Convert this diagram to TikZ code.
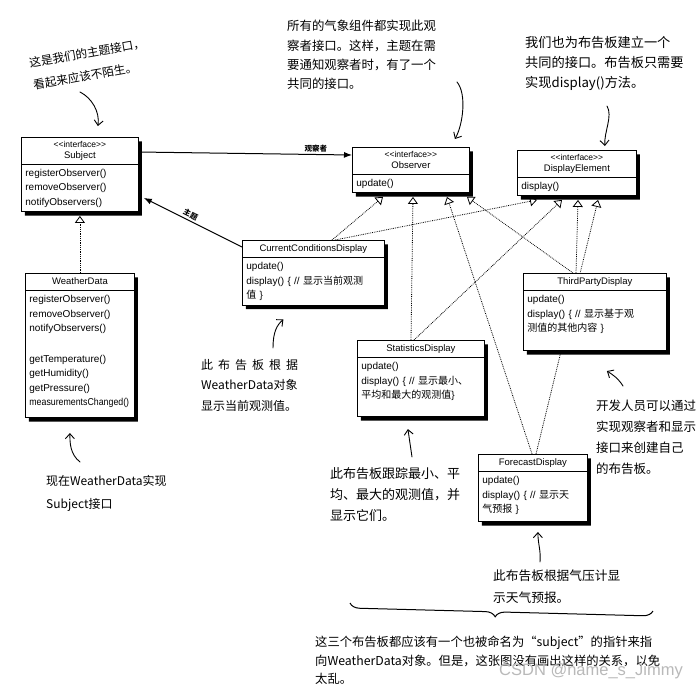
\documentclass[tikz,border=0pt]{standalone}
\usepackage{fontspec}
\usepackage{graphicx}
\setmainfont{Liberation Sans}
\newfontfamily\cjk{Noto Sans CJK SC}
\usetikzlibrary{arrows.meta, shapes.multipart, shadows, backgrounds, decorations.pathreplacing}
\setlength{\parindent}{0pt}

\newcommand{\zh}[1]{{\cjk #1}}
\newcommand{\ifacehead}[1]{\centering\fontsize{9.5}{11.5}\selectfont\strut{\fontsize{8.5}{9}\selectfont <{}<interface>{}>}\\#1\strut\par}
\newcommand{\classhead}[1]{\centering\fontsize{9.5}{13.5}\selectfont\strut#1\strut\par}
\newcommand{\padbox}[1]{\rule[-#1]{0pt}{#1}}

\begin{document}
\begin{tikzpicture}[x=1pt, y=-1pt,
  umlclass/.style={rectangle split, rectangle split parts=2, draw, fill=white,
    line width=0.8pt, anchor=north west, inner xsep=4pt, inner ysep=1.5pt,
    font=\fontsize{10}{14.5}\selectfont,
    drop shadow={shadow xshift=3.5pt, shadow yshift=-4pt, fill=black, opacity=1}},
  realize/.style={densely dotted, line width=0.8pt, -{Triangle[open, length=7pt, width=10pt]}},
  assoc/.style={line width=1pt, -{Latex[length=8pt, width=6pt]}},
  note/.style args={#1/#2}{font=\cjk\fontsize{#1}{#2}\selectfont, align=left,
    inner sep=0pt, anchor=north west},
  hand/.style={line width=0.9pt, line cap=round, -{Straight Barb[length=5pt, width=9pt]}},
  edgelabel/.style={font=\cjk\fontsize{7.5}{9}\selectfont\bfseries, inner sep=2pt}]

  \useasboundingbox (0,0) rectangle (700,691);
  \begin{scope}[on background layer]
    \fill[white] (0,0) rectangle (700,691);
  \end{scope}

  % interfaces
  \node[umlclass, text width=109pt] (subject) at (21,137)
    {\ifacehead{Subject}\nodepart{second}\raggedright\strut registerObserver()\\removeObserver()\\notifyObservers()\strut\par};
  \node[umlclass, text width=109pt] (observer) at (352,147)
    {\ifacehead{Observer}\nodepart{second}\raggedright\strut update()\strut\par};
  \node[umlclass, text width=111pt] (displayel) at (517,150)
    {\ifacehead{DisplayElement}\nodepart{second}\raggedright\strut display()\strut\par};

  % classes
  \node[umlclass, text width=134pt] (ccd) at (242,240)
    {\classhead{CurrentConditionsDisplay}\nodepart{second}\raggedright\strut update()\\display() \{ // \zh{显示当前观测}\\\zh{值} \}\strut\par};
  \node[umlclass, text width=101pt] (weather) at (25,273)
    {\classhead{WeatherData}\nodepart{second}\raggedright\strut registerObserver()\\removeObserver()\\notifyObservers()\\[16pt]getTemperature()\\getHumidity()\\getPressure()\\\scalebox{0.88}[1]{measurementsChanged()}\padbox{10pt}\par};
  \node[umlclass, text width=119pt] (stats) at (357,340)
    {\classhead{StatisticsDisplay}\nodepart{second}\raggedright\strut update()\\display() \{ // \zh{显示最小、}\\\zh{平均和最大的观测值}\}\padbox{16pt}\par};
  \node[umlclass, text width=135pt] (third) at (523,273)
    {\classhead{ThirdPartyDisplay}\nodepart{second}\raggedright\strut update()\\display() \{ // \zh{显示基于观}\\\zh{测值的其他内容} \}\padbox{17pt}\par};
  \node[umlclass, text width=101pt] (forecast) at (478,454)
    {\classhead{ForecastDisplay}\nodepart{second}\raggedright\strut update()\\display() \{ // \zh{显示天}\\\zh{气预报} \}\padbox{7pt}\par};

  % notes
  \node[note=11.7/22, rotate=10, anchor=center] (subjectnote) at (89,64) {这是我们的主题接口，\\看起来应该不陌生。};
  \node[note=12.4/19.3] (observernote) at (287,20) {所有的气象组件都实现此观\\察者接口。这样，主题在需\\要通知观察者时，有了一个\\共同的接口。};
  \node[note=13.2/20] (displaynote) at (525,36) {我们也为布告板建立一个\\共同的接口。布告板只需要\\实现display()方法。};
  \node[note=12/20.5] (ccdnote) at (201,359) {此\hspace{5pt}布\hspace{5pt}告\hspace{5pt}板\hspace{5pt}根\hspace{5pt}据\\WeatherData对象\\显示当前观测值。};
  \node[note=12/23] (weathernote) at (46,475) {现在WeatherData实现\\Subject接口};
  \node[note=13/21] (statsnote) at (330,467) {此布告板跟踪最小、平\\均、最大的观测值，并\\显示它们。};
  \node[note=12.5/21] (thirdnote) at (596,400) {开发人员可以通过\\实现观察者和显示\\接口来创建自己\\的布告板。};
  \node[note=12.7/22] (forecastnote) at (493,570) {此布告板根据气压计显\\示天气预报。};
  \node[note=12.3/18.5] (bottomnote) at (315,636) {这三个布告板都应该有一个也被命名为“subject”的指针来指\\向WeatherData对象。但是，这张图没有画出这样的关系，以免\\太乱。};
  \node[font=\fontsize{16.5}{18}\selectfont, text=gray!55, inner sep=0pt] (watermark) at (591,671) {CSDN @name\_s\_Jimmy};

  \begin{scope}[on background layer]
    \draw[realize] (weather.north) -- ([yshift=-4pt]subject.south);
    \draw[realize] ([xshift=90pt]ccd.north west) -- ([xshift=31pt,yshift=-4pt]observer.south west);
    \draw[realize] ([xshift=93pt]ccd.north west) -- ([xshift=20pt,yshift=-4pt]displayel.south west);
    \draw[realize] ([xshift=54pt]stats.north west) -- ([xshift=61pt,yshift=-4pt]observer.south west);
    \draw[realize] ([xshift=57pt]stats.north west) -- ([xshift=45pt,yshift=-4pt]displayel.south west);
    \draw[realize] ([xshift=50pt]third.north west) -- ([xshift=115pt,yshift=-4pt]observer.south west);
    \draw[realize] ([xshift=53pt]third.north west) -- ([xshift=61pt,yshift=-4pt]displayel.south west);
    \draw[realize] ([xshift=54pt]forecast.north west) -- ([xshift=95pt,yshift=-4pt]observer.south west);
    \draw[realize] ([xshift=58pt]forecast.north west) -- ([xshift=81pt,yshift=-4pt]displayel.south west);

    \draw[assoc] ([yshift=-15pt]subject.north east) -- node[edgelabel, above, pos=0.83] {观察者} ([yshift=-8pt]observer.north west);
    \draw[assoc] ([yshift=-7pt]ccd.north west) -- node[edgelabel, above, sloped, pos=0.55] {主题} ([xshift=5pt,yshift=14pt]subject.south east);
  \end{scope}

  % hand drawn pointers
  \draw[hand] ([xshift=-9pt,yshift=-28pt]subjectnote.center) .. controls +(12,6) and +(2,-14) .. ([xshift=18pt,yshift=11pt]subject.north);
  \draw[hand] ([xshift=170pt,yshift=-62pt]observernote.north west) .. controls +(10,12) and +(8,-14) .. ([xshift=44pt,yshift=8pt]observer.north);
  \draw[hand] ([xshift=82pt,yshift=-70pt]displaynote.north west) .. controls +(6,10) and +(-1,-14) .. ([xshift=28pt,yshift=4pt]displayel.north);
  \draw[hand] ([xshift=72pt,yshift=11pt]ccdnote.north west) .. controls +(0,-15) and +(-7,6) .. ([xshift=-30pt,yshift=-14pt]ccd.south);
  \draw[hand] ([xshift=34pt,yshift=13pt]weathernote.north west) .. controls +(-10,-8) and +(0,10) .. ([xshift=-10pt,yshift=-15pt]weather.south);
  \draw[hand] ([xshift=82pt,yshift=10pt]statsnote.north west) -- ([xshift=-13pt,yshift=-12pt]stats.south);
  \draw[hand] ([xshift=27pt,yshift=14pt]thirdnote.north west) .. controls +(-5,-8) and +(5,3) .. ([xshift=12pt,yshift=-20pt]third.south);
  \draw[hand] ([xshift=47pt,yshift=8pt]forecastnote.north west) .. controls +(1,-12) and +(0,12) .. ([xshift=5pt,yshift=-10pt]forecast.south);

  \draw[line width=1pt, decorate, decoration={brace, mirror, amplitude=10pt, aspect=0.48}] (350,603) -- (653,611);
\end{tikzpicture}
\end{document}
